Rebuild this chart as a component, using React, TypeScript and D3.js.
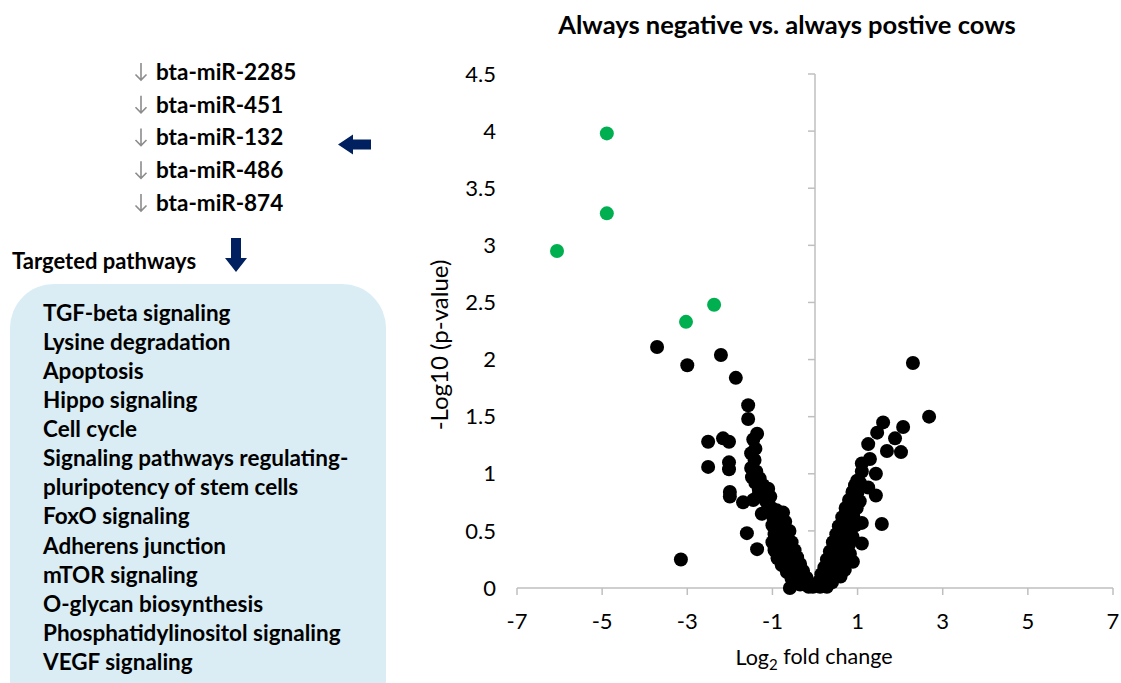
import React from "react";
import * as d3 from "d3";

// Down-regulated miRNAs listed above the pathway box
const mirnas = ["bta-miR-2285", "bta-miR-451", "bta-miR-132", "bta-miR-486", "bta-miR-874"];

// KEGG pathways targeted by the miRNAs
const pathways = [
  "TGF-beta signaling",
  "Lysine degradation",
  "Apoptosis",
  "Hippo signaling",
  "Cell cycle",
  "Signaling pathways regulating-",
  "pluripotency of stem cells",
  "FoxO signaling",
  "Adherens junction",
  "mTOR signaling",
  "O-glycan biosynthesis",
  "Phosphatidylinositol signaling",
  "VEGF signaling",
];

const xTicks = [-7, -5, -3, -1, 1, 3, 5, 7];
const yTicks = [0, 0.5, 1, 1.5, 2, 2.5, 3, 3.5, 4, 4.5];

// [log2 fold change, -log10 p-value] for significantly changed miRNAs
const significant: [number, number][] = [
  [-4.89, 3.98],
  [-4.89, 3.28],
  [-6.06, 2.95],
  [-2.37, 2.48],
  [-3.03, 2.33],
];

// [log2 fold change, -log10 p-value] for all other miRNAs
const others: [number, number][] = [
  // scattered on the left
  [-3.71, 2.11], [-3.0, 1.95], [-2.21, 2.04], [-1.86, 1.84], [-3.15, 0.25],
  [-1.57, 1.6], [-1.57, 1.48], [-1.36, 1.35], [-2.51, 1.28], [-2.16, 1.31],
  [-2.02, 1.28], [-2.51, 1.06], [-2.02, 1.1], [-2.02, 1.04], [-2.0, 0.84],
  [-2.0, 0.8], [-1.69, 0.75], [-1.6, 0.48], [-1.36, 0.34], [-0.59, 0.0], [-1.25, 0.65],
  // left arm, upper band
  [-1.45, 1.3], [-1.4, 1.22], [-1.5, 1.18], [-1.42, 1.12], [-1.5, 1.05], [-1.38, 1.02],
  [-1.48, 0.97], [-1.3, 0.96], [-1.4, 0.92], [-1.22, 0.9], [-1.32, 0.86], [-1.1, 0.87],
  [-1.2, 0.82], [-1.05, 0.8], [-1.35, 0.8], [-1.15, 0.76], [-1.45, 0.77],
  // left arm, lower band
  [-1.02, 0.7], [-0.9, 0.68], [-0.75, 0.66], [-0.98, 0.62], [-0.82, 0.6], [-0.7, 0.58],
  [-1.0, 0.55], [-0.88, 0.53], [-0.72, 0.52], [-0.6, 0.5], [-0.95, 0.47], [-0.8, 0.45],
  [-0.65, 0.44], [-1.0, 0.4], [-0.88, 0.38], [-0.72, 0.38], [-0.55, 0.4], [-0.95, 0.33],
  [-0.8, 0.31], [-0.62, 0.32], [-0.48, 0.33], [-0.88, 0.26], [-0.72, 0.25], [-0.55, 0.26],
  [-0.42, 0.27], [-0.78, 0.2], [-0.62, 0.19], [-0.48, 0.2], [-0.35, 0.21], [-0.66, 0.14],
  [-0.52, 0.13], [-0.4, 0.14], [-0.28, 0.15], [-0.55, 0.08], [-0.42, 0.07], [-0.3, 0.08],
  [-0.2, 0.09], [-0.35, 0.03], [-0.22, 0.03], [-0.12, 0.04], [-0.15, 0.01], [-0.05, 0.01],
  // right arm
  [0.05, 0.02], [0.12, 0.01], [0.2, 0.02], [0.28, 0.01], [0.1, 0.06], [0.18, 0.07],
  [0.28, 0.06], [0.4, 0.05], [0.15, 0.12], [0.25, 0.12], [0.36, 0.11], [0.5, 0.1],
  [0.6, 0.1], [0.22, 0.18], [0.32, 0.18], [0.45, 0.17], [0.58, 0.16], [0.7, 0.16],
  [0.28, 0.25], [0.4, 0.24], [0.52, 0.24], [0.66, 0.23], [0.89, 0.23], [0.35, 0.32],
  [0.46, 0.31], [0.58, 0.31], [0.72, 0.3], [0.82, 0.3], [0.42, 0.4], [0.54, 0.39],
  [0.66, 0.39], [0.8, 0.38], [1.1, 0.39], [0.5, 0.47], [0.62, 0.47], [0.75, 0.46],
  [0.88, 0.45], [0.56, 0.54], [0.68, 0.55], [0.8, 0.54], [0.95, 0.55], [1.1, 0.57],
  [1.57, 0.56], [0.64, 0.62], [0.76, 0.62], [0.9, 0.63], [0.72, 0.7], [0.84, 0.7],
  [0.98, 0.7], [0.8, 0.77], [0.92, 0.77], [1.05, 0.76], [0.88, 0.84], [1.0, 0.84],
  [0.94, 0.9], [1.06, 0.92],
  // scattered on the right
  [1.43, 0.81], [0.94, 0.83], [1.25, 0.88], [0.99, 0.94], [1.43, 1.0], [1.1, 1.02],
  [1.1, 1.09], [1.29, 1.13], [1.69, 1.2], [2.02, 1.19], [1.25, 1.26], [1.88, 1.31],
  [1.46, 1.36], [2.07, 1.41], [1.6, 1.45], [2.68, 1.5], [2.3, 1.97],
];

const FONT = "Lato, 'Open Sans', sans-serif";
const NAVY = "#002060";
const AXIS = "#bfbfbf";

export default function App() {
  const W = 1121;
  const H = 683;
  const x = d3.scaleLinear().domain([-7, 7]).range([517, 1113]);
  const y = d3.scaleLinear().domain([0, 4.5]).range([588, 74]);
  const fmt = (v: number) => String(v);

  const mirY = d3.scaleLinear().domain([0, mirnas.length - 1]).range([72, 203]);
  const pathY = d3.scaleLinear().domain([0, pathways.length - 1]).range([313, 662]);

  return (
    <svg
      width={W}
      height={H}
      style={{ position: "absolute", left: 0, top: 0, background: "#fff" }}
      fontFamily={FONT}
    >
      {/* miRNA list with down arrows */}
      {mirnas.map((m, i) => {
        const cy = mirY(i);
        return (
          <g key={m}>
            <path
              d={`M141,${cy - 9} L141,${cy + 8} M135.5,${cy + 2.5} L141,${cy + 8} L146.5,${cy + 2.5}`}
              stroke="#8c8c8c"
              strokeWidth={1.6}
              fill="none"
            />
            <text x={156} y={cy} dy="0.35em" fontSize={22.5} fontWeight="bold" fill="#000">
              {m}
            </text>
          </g>
        );
      })}

      {/* left-pointing block arrow */}
      <path
        d={`M338,${mirY(2) + 7} L353,${mirY(2) - 3} L353,${mirY(2) + 2} L371,${mirY(2) + 2} L371,${mirY(2) + 12} L353,${mirY(2) + 12} L353,${mirY(2) + 17} Z`}
        fill={NAVY}
      />

      <text x={12} y={261} dy="0.35em" fontSize={22} fontWeight="bold" fill="#000">
        Targeted pathways
      </text>
      {/* down-pointing block arrow */}
      <path d="M231,238 L241,238 L241,258 L247,258 L236,272 L225,258 L231,258 Z" fill={NAVY} />

      {/* pathway box */}
      <rect x={10} y={284} width={376} height={440} rx={44} ry={44} fill="#daedf4" />
      {pathways.map((p, i) => (
        <text key={p} x={43} y={pathY(i)} dy="0.35em" fontSize={22.5} fontWeight="bold" fill="#000">
          {p}
        </text>
      ))}

      {/* title */}
      <text x={787} y={25} dy="0.35em" textAnchor="middle" fontSize={25.5} fontWeight="bold" fill="#000">
        Always negative vs. always postive cows
      </text>

      {/* y axis */}
      <line x1={x(0)} x2={x(0)} y1={y(4.5)} y2={y(0)} stroke={AXIS} strokeWidth={1.5} />
      {yTicks.map((t) => (
        <g key={t}>
          <line x1={x(0) - 7} x2={x(0)} y1={y(t)} y2={y(t)} stroke={AXIS} strokeWidth={1.5} />
          <text x={496} y={y(t)} dy="0.35em" textAnchor="end" fontSize={22} fill="#000">
            {fmt(t)}
          </text>
        </g>
      ))}

      {/* x axis */}
      <line x1={x(-7)} x2={x(7)} y1={y(0)} y2={y(0)} stroke={AXIS} strokeWidth={1.5} />
      {xTicks.map((t) => (
        <g key={t}>
          <line x1={x(t)} x2={x(t)} y1={y(0)} y2={y(0) + 7} stroke={AXIS} strokeWidth={1.5} />
          <text x={x(t)} y={621} dy="0.35em" textAnchor="middle" fontSize={22} fill="#000">
            {fmt(t)}
          </text>
        </g>
      ))}

      {/* axis titles */}
      <text
        transform={`translate(440,345) rotate(-90)`}
        dy="0.35em"
        textAnchor="middle"
        fontSize={24}
        fill="#000"
      >
        -Log10 (p-value)
      </text>
      <text x={814} y={657} dy="0.35em" textAnchor="middle" fontSize={21.5} fill="#000">
        Log<tspan fontSize={15} dy="0.35em">2</tspan>
        <tspan dy="-0.25em"> fold change</tspan>
      </text>

      {/* points */}
      {others.map(([fc, p], i) => (
        <circle key={`o${i}`} cx={x(fc)} cy={y(p)} r={7} fill="#000" />
      ))}
      {significant.map(([fc, p], i) => (
        <circle key={`s${i}`} cx={x(fc)} cy={y(p)} r={7} fill="#00b050" />
      ))}
    </svg>
  );
}
